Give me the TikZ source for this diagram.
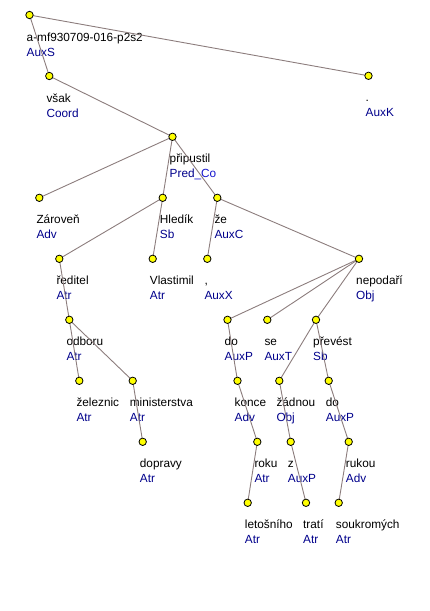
\documentclass[tikz,border=0pt]{standalone}
\usepackage{fontspec}
\setmainfont{Liberation Sans}
\usetikzlibrary{backgrounds}
\definecolor{edgec}{RGB}{140,125,125}
\definecolor{afun}{RGB}{0,0,139}
\definecolor{afunco}{RGB}{20,20,205}
\definecolor{dotc}{RGB}{255,255,0}
\tikzset{
  dot/.style={circle, fill=dotc, draw=black, line width=0.8pt, minimum size=7.4pt, inner sep=0pt},
  wordlab/.style={anchor=base west, inner sep=0pt, font=\fontsize{11.8}{13}\selectfont, text=black},
  funclab/.style={anchor=base west, inner sep=0pt, font=\fontsize{11.8}{13}\selectfont, text=afun},
  edge/.style={draw=edgec, line width=0.9pt}
}
\newcommand\tn[3]{\node[dot] (#1) at (#2,#3) {};}
\newcommand\tl[3]{%
  \node[wordlab] (#1w) at ([xshift=-3pt,yshift=-26pt]#1.center) {#2};
  \node[funclab] (#1f) at ([xshift=-3pt,yshift=-41pt]#1.center) {#3};}
\begin{document}
\begin{tikzpicture}[x=1pt,y=-1pt]
\useasboundingbox (0,0) rectangle (430,611);
\tn{r}{29.5}{15}
\tn{vsak}{49.3}{76}
\tn{auxk}{368.5}{75.8}
\tn{prip}{172.5}{136.8}
\tn{zarov}{39.3}{197.8}
\tn{hled}{162.7}{197.8}
\tn{ze}{217.3}{197.8}
\tn{red}{59.3}{258.8}
\tn{vlast}{152.7}{258.8}
\tn{comma}{207.3}{258.8}
\tn{nepod}{359}{258.8}
\tn{odb}{69.3}{319.8}
\tn{doa}{227.5}{319.8}
\tn{se}{267.3}{319.8}
\tn{prev}{316}{319.8}
\tn{zel}{79.3}{380.8}
\tn{min}{132.7}{380.8}
\tn{konce}{237.5}{380.8}
\tn{zadn}{279.3}{380.8}
\tn{dob}{328.7}{380.8}
\tn{dopr}{142.7}{441.8}
\tn{roku}{257.3}{441.8}
\tn{z}{290.7}{441.8}
\tn{rukou}{348.7}{441.8}
\tn{let}{247.7}{502.8}
\tn{trati}{306}{502.8}
\tn{souk}{338.7}{502.8}
\begin{scope}[on background layer]
\tl{r}{a-mf930709-016-p2s2}{AuxS}
\tl{vsak}{však}{Coord}
\tl{auxk}{.}{AuxK}
\tl{prip}{připustil}{Pred\textcolor{afunco}{\_Co}}
\tl{zarov}{Zároveň}{Adv}
\tl{hled}{Hledík}{Sb}
\tl{ze}{že}{AuxC}
\tl{red}{ředitel}{Atr}
\tl{vlast}{Vlastimil}{Atr}
\tl{comma}{,}{AuxX}
\tl{nepod}{nepodaří}{Obj}
\tl{odb}{odboru}{Atr}
\tl{doa}{do}{AuxP}
\tl{se}{se}{AuxT}
\tl{prev}{převést}{Sb}
\tl{zel}{železnic}{Atr}
\tl{min}{ministerstva}{Atr}
\tl{konce}{konce}{Adv}
\tl{zadn}{žádnou}{Obj}
\tl{dob}{do}{AuxP}
\tl{dopr}{dopravy}{Atr}
\tl{roku}{roku}{Atr}
\tl{z}{z}{AuxP}
\tl{rukou}{rukou}{Adv}
\tl{let}{letošního}{Atr}
\tl{trati}{tratí}{Atr}
\tl{souk}{soukromých}{Atr}
\draw[edge] (r.center) -- (vsak.center);
\draw[edge] (r.center) -- (auxk.center);
\draw[edge] (vsak.center) -- (prip.center);
\draw[edge] (prip.center) -- (zarov.center);
\draw[edge] (prip.center) -- (hled.center);
\draw[edge] (prip.center) -- (ze.center);
\draw[edge] (hled.center) -- (red.center);
\draw[edge] (hled.center) -- (vlast.center);
\draw[edge] (ze.center) -- (comma.center);
\draw[edge] (ze.center) -- (nepod.center);
\draw[edge] (red.center) -- (odb.center);
\draw[edge] (odb.center) -- (zel.center);
\draw[edge] (odb.center) -- (min.center);
\draw[edge] (min.center) -- (dopr.center);
\draw[edge] (nepod.center) -- (doa.center);
\draw[edge] (nepod.center) -- (se.center);
\draw[edge] (nepod.center) -- (prev.center);
\draw[edge] (doa.center) -- (konce.center);
\draw[edge] (konce.center) -- (roku.center);
\draw[edge] (roku.center) -- (let.center);
\draw[edge] (prev.center) -- (zadn.center);
\draw[edge] (prev.center) -- (dob.center);
\draw[edge] (zadn.center) -- (z.center);
\draw[edge] (z.center) -- (trati.center);
\draw[edge] (dob.center) -- (rukou.center);
\draw[edge] (rukou.center) -- (souk.center);
\end{scope}
\end{tikzpicture}
\end{document}
